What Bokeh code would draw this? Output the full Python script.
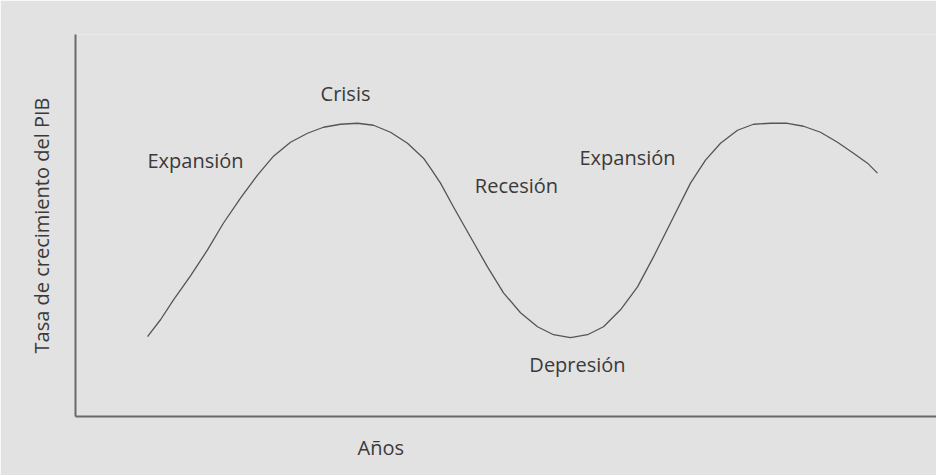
from bokeh.plotting import figure
from bokeh.models import Range1d, Label, Title
from bokeh.embed import file_html
from bokeh.resources import INLINE

# Curve: years (arbitrary units) vs GDP growth rate (arbitrary units)
years = [72, 85, 98, 115, 132, 148, 165, 182, 198, 215, 232, 248, 265, 282, 298,
         315, 332, 348, 355, 365, 378, 395, 412, 428, 445, 462, 478, 495, 512, 528,
         545, 562, 578, 595, 615, 630, 645, 662, 678, 695, 712, 728, 745, 762, 778,
         792, 802]
growth = [80, 97, 117, 141, 167, 194, 219, 242, 261, 275, 284, 290, 293, 294, 292,
          285, 274, 259, 249, 234, 210, 180, 150, 124, 104, 90, 82, 79, 82, 90,
          107, 130, 160, 194, 234, 257, 274, 287, 293, 294, 294, 291, 285, 275, 264,
          254, 244]

phase_names = ["Expansión", "Crisis", "Recesión", "Expansión", "Depresión"]
phase_x = [120, 270, 441, 552, 502]
phase_y = [257, 324, 232, 260, 52]

x_title = "Años"
y_title = "Tasa de crecimiento del PIB"

BG = "#e2e2e2"
TXT = "#3a3a3a"
FONT = "Open Sans"

p = figure(width=936, height=475, output_backend="svg", toolbar_location=None,
           x_range=Range1d(0, 861), y_range=Range1d(0, 383),
           min_border_left=75, min_border_right=0, min_border_top=34,
           min_border_bottom=58)
p.background_fill_color = BG
p.border_fill_color = BG
p.outline_line_color = None
p.grid.visible = False

for ax in (p.xaxis[0], p.yaxis[0]):
    ax.axis_line_color = "#6a6a6a"
    ax.axis_line_width = 2
    ax.major_tick_line_color = None
    ax.minor_tick_line_color = None
    ax.major_tick_out = 0
    ax.major_tick_in = 0
    ax.minor_tick_out = 0
    ax.major_label_text_font_size = "0px"
    ax.major_label_text_color = None

p.yaxis[0].axis_label = y_title
p.yaxis[0].axis_label_text_font = FONT
p.yaxis[0].axis_label_text_font_size = "20px"
p.yaxis[0].axis_label_text_font_style = "normal"
p.yaxis[0].axis_label_text_color = TXT
p.yaxis[0].axis_label_standoff = 21

p.line(years, growth, line_color="#555555", line_width=1.3, line_join="round")

for name, x, y in zip(phase_names, phase_x, phase_y):
    p.add_layout(Label(x=x, y=y, text=name, text_font=FONT, text_font_size="20px",
                       text_color=TXT, text_align="center", text_baseline="middle"))

p.add_layout(Title(text=x_title, align="left", offset=282, text_font=FONT,
                   text_font_size="20px", text_font_style="normal",
                   text_color=TXT, standoff=30), "below")

open("out.html", "w").write(file_html(p, INLINE))
